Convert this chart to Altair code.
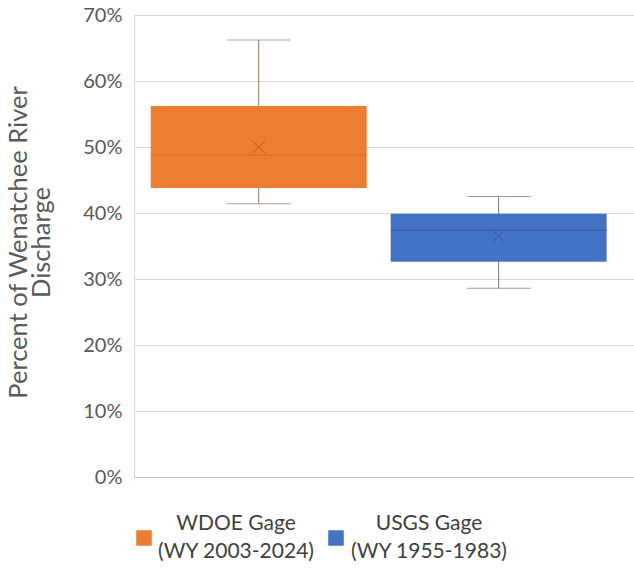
import altair as alt
import pandas as pd

# Box-plot summary statistics (percent of Wenatchee River discharge)
gages = ["WDOE Gage", "USGS Gage"]
periods = ["(WY 2003-2024)", "(WY 1955-1983)"]
mins = [41.4, 28.6]
q1s = [43.8, 32.6]
medians = [48.8, 37.4]
q3s = [56.2, 39.9]
maxs = [66.2, 42.5]
means = [50.0, 36.5]

box_colors = ["#ED7D31", "#4472C4"]
median_colors = ["#D4691F", "#2F5597"]
mean_colors = ["#B85A1C", "#3A5C9E"]
whisker_colors = ["#947866", "#6F7787"]

df = pd.DataFrame({
    "gage": [f"{g}|{p}" for g, p in zip(gages, periods)],
    "min": mins, "q1": q1s, "median": medians, "q3": q3s, "max": maxs, "mean": means,
    "box_color": box_colors,
    "median_color": median_colors, "mean_color": mean_colors,
    "whisker_color": whisker_colors,
})
order = list(df["gage"])

FONT = "Lato"
TEXT = "#595959"

x = alt.X(
    "gage:N", sort=order, title=None,
    scale=alt.Scale(paddingInner=0.1, paddingOuter=0.092, align=0.38),
    axis=alt.Axis(labels=False, ticks=False, domain=True, domainColor="#BFBFBF", grid=False),
)
yscale = alt.Scale(domain=[0, 70])
yaxis = alt.Axis(
    values=[0, 10, 20, 30, 40, 50, 60, 70],
    labelExpr="datum.value + '%'",
    title=["Percent of Wenatchee River", "Discharge"],
    titleFont=FONT, titleFontSize=25.5, titleFontWeight="normal", titleColor=TEXT,
    titleAngle=-90, titleAlign="center", titleBaseline="middle",
    titleX=-116, titleY=227, titleLineHeight=23,
    labelFont=FONT, labelFontSize=20, labelColor=TEXT, labelPadding=12,
    ticks=False, domain=True, domainColor="#D9D9D9",
    grid=True, gridColor="#D9D9D9",
)

base = alt.Chart(df)

def colored(field):
    return alt.Color(f"{field}:N", scale=None, legend=None)

whisker = base.mark_rule(strokeWidth=1).encode(
    x=x,
    y=alt.Y("min:Q", scale=yscale, axis=yaxis),
    y2="max:Q",
    color=colored("whisker_color"),
)
caps_low = base.mark_tick(size=64, thickness=1).encode(
    x=x, y="min:Q", color=colored("whisker_color")
)
caps_high = base.mark_tick(size=64, thickness=1).encode(
    x=x, y="max:Q", color=colored("whisker_color")
)
box = base.mark_bar(stroke=None).encode(
    x=x, y="q1:Q", y2="q3:Q", color=colored("box_color")
)
median = base.mark_tick(size=216, thickness=1.2).encode(
    x=x, y="median:Q", color=colored("median_color")
)
mean = base.mark_point(
    shape="M-1,-1L1,1M1,-1L-1,1", size=150, filled=False, strokeWidth=1.1, opacity=0.75
).encode(
    x=x, y="mean:Q", color=colored("mean_color")
)

# Legend below the plot: a colour swatch and a two-line label per gage
legend_layers = []
for i, g in enumerate(order):
    entry = base.transform_filter(alt.datum.gage == g).transform_calculate(
        label="split(datum.gage, '|')"
    )
    swatch = entry.mark_square(size=240, opacity=1).encode(
        x=alt.value(10 + 192 * i), y=alt.value(523), color=colored("box_color")
    )
    label = entry.mark_text(
        font=FONT, fontSize=21, color="#404040", align="center",
        baseline="middle", lineHeight=28,
    ).encode(
        x=alt.value(102 + 193 * i), y=alt.value(509), text="label:N"
    )
    legend_layers += [swatch, label]

chart = (
    alt.layer(whisker, caps_low, caps_high, box, median, mean, *legend_layers)
    .properties(
        width=500, height=462,
        autosize=alt.AutoSizeParams(type="none"),
        padding={"left": 134, "top": 15, "right": 0, "bottom": 92},
    )
    .configure_view(stroke=None)
    .configure(background="white")
)

chart.save("out.html", embed_options={"renderer": "svg", "actions": False})
